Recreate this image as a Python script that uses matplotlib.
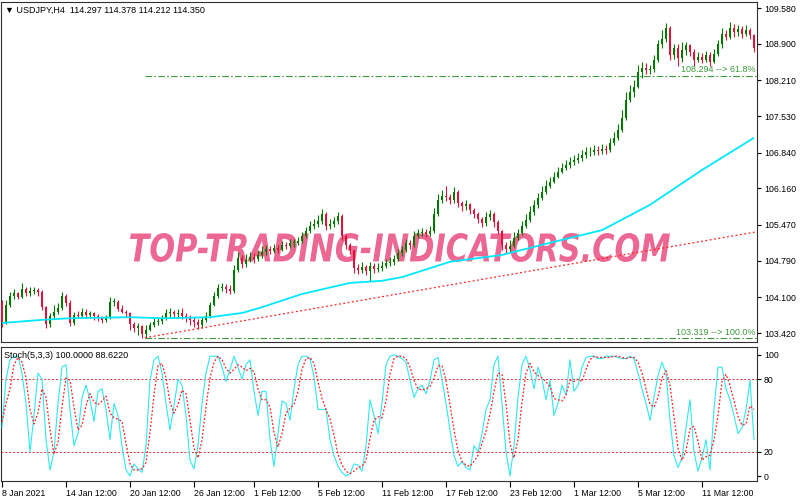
import matplotlib
matplotlib.use('Agg')
import matplotlib.pyplot as plt
from matplotlib.textpath import TextPath
from matplotlib.font_manager import FontProperties
from matplotlib.patches import PathPatch
from matplotlib.transforms import Affine2D, IdentityTransform

# ---------------- data ----------------
first_open = 103.99
closes = [
103.63,103.95,104.12,104.18,104.10,104.25,104.18,104.22,104.24,104.20,
103.91,103.59,103.74,103.82,103.89,104.12,103.99,103.61,103.76,103.74,
103.82,103.76,103.80,103.74,103.70,103.67,103.70,104.01,104.01,103.87,
103.82,103.80,103.59,103.51,103.55,103.40,103.48,103.57,103.63,103.65,
103.70,103.80,103.82,103.78,103.80,103.74,103.70,103.67,103.63,103.57,
103.67,103.74,103.95,104.12,104.27,104.29,104.25,104.22,104.62,104.84,
104.73,104.80,104.86,104.82,104.90,104.96,105.01,104.97,105.03,104.99,
105.09,105.07,105.13,105.13,105.16,105.26,105.35,105.45,105.49,105.54,
105.68,105.45,105.49,105.54,105.64,105.26,105.09,104.99,104.65,104.62,
104.67,104.60,104.69,104.63,104.65,104.69,104.75,104.77,104.82,104.94,
104.99,105.13,105.09,105.26,105.32,105.33,105.30,105.35,105.68,105.94,
106.02,106.00,105.94,106.09,105.88,105.83,105.87,105.75,105.68,105.58,
105.51,105.62,105.68,105.52,105.35,105.09,105.01,105.07,105.22,105.32,
105.45,105.56,105.71,105.85,105.98,106.09,106.21,106.28,106.38,106.47,
106.55,106.61,106.66,106.70,106.74,106.79,106.85,106.85,106.89,106.87,
106.91,106.89,107.02,107.12,107.27,107.50,107.84,107.99,108.09,108.37,
108.44,108.41,108.42,108.60,108.89,109.00,109.20,108.69,108.83,108.63,
108.78,108.87,108.75,108.60,108.66,108.60,108.69,108.56,108.71,108.89,
109.09,109.03,109.20,109.12,109.19,109.09,109.16,109.07,108.83]
highs = [
104.05,104.05,104.20,104.25,104.20,104.37,104.29,104.29,104.29,104.27,
104.24,103.93,103.80,103.95,103.99,104.20,104.16,104.05,103.82,103.84,
103.89,103.87,103.84,103.82,103.78,103.74,103.76,104.10,104.08,104.05,
103.95,103.86,103.82,103.63,103.61,103.57,103.57,103.63,103.70,103.72,
103.76,103.87,103.89,103.86,103.87,103.89,103.80,103.76,103.72,103.69,
103.72,103.82,104.01,104.20,104.35,104.37,104.35,104.33,104.71,104.96,
104.90,104.92,104.96,104.94,104.99,105.07,105.09,105.07,105.11,105.09,
105.16,105.14,105.20,105.20,105.24,105.33,105.43,105.54,105.58,105.66,
105.77,105.71,105.58,105.62,105.71,105.68,105.30,105.13,104.99,104.73,
104.77,104.71,104.77,104.75,104.75,104.79,104.82,104.86,104.90,105.01,
105.07,105.20,105.18,105.35,105.39,105.41,105.39,105.45,105.79,106.05,
106.13,106.21,106.05,106.19,106.13,105.92,105.94,105.88,105.79,105.71,
105.62,105.71,105.75,105.71,105.56,105.37,105.14,105.18,105.33,105.39,
105.54,105.68,105.83,105.94,106.07,106.21,106.32,106.38,106.47,106.57,
106.64,106.70,106.76,106.79,106.83,106.89,106.95,106.95,106.98,106.96,
107.00,106.98,107.12,107.23,107.38,107.65,107.99,108.12,108.22,108.50,
108.56,108.54,108.50,108.69,108.97,109.16,109.30,109.24,108.90,108.89,
108.94,108.94,108.89,108.81,108.75,108.73,108.77,108.75,108.81,108.97,
109.20,109.16,109.31,109.28,109.26,109.24,109.26,109.20,109.09]
lows = [
103.53,103.59,103.91,104.06,104.06,104.08,104.12,104.12,104.16,104.12,
103.86,103.51,103.53,103.70,103.78,103.86,103.93,103.55,103.57,103.70,
103.70,103.70,103.70,103.67,103.65,103.61,103.63,103.69,103.93,103.84,
103.80,103.72,103.48,103.44,103.38,103.32,103.33,103.46,103.53,103.57,
103.59,103.67,103.72,103.72,103.70,103.69,103.63,103.57,103.53,103.50,
103.51,103.63,103.70,103.93,104.08,104.22,104.18,104.16,104.18,104.58,
104.65,104.67,104.77,104.75,104.79,104.84,104.90,104.92,104.94,104.94,
104.97,105.01,105.03,105.05,105.09,105.13,105.22,105.32,105.39,105.43,
105.49,105.37,105.39,105.43,105.49,105.18,105.01,104.92,104.56,104.54,
104.56,104.52,104.41,104.56,104.58,104.60,104.65,104.69,104.71,104.79,
104.88,104.96,105.01,105.05,105.22,105.26,105.24,105.26,105.32,105.64,
105.88,105.92,105.87,105.88,105.81,105.73,105.75,105.68,105.60,105.51,
105.43,105.45,105.56,105.43,105.30,104.99,104.94,104.96,105.05,105.18,
105.28,105.41,105.52,105.66,105.79,105.94,106.05,106.17,106.26,106.36,
106.45,106.51,106.55,106.61,106.64,106.68,106.74,106.78,106.79,106.79,
106.81,106.81,106.85,106.98,107.08,107.23,107.46,107.80,107.90,108.07,
108.25,108.33,108.33,108.37,108.56,108.83,108.94,108.60,108.61,108.48,
108.55,108.69,108.68,108.48,108.56,108.54,108.55,108.48,108.54,108.68,
108.83,108.97,109.00,109.03,109.05,109.01,109.05,109.00,108.75]

ma_bars = [0, 10, 17, 32, 40, 52, 60, 65, 75, 87, 95, 100, 112, 125, 137, 150, 162, 175, 188]
ma_vals = [103.61, 103.67, 103.70, 103.72, 103.70, 103.72, 103.80, 103.91, 104.16, 104.37,
           104.41, 104.48, 104.77, 104.90, 105.13, 105.37, 105.85, 106.51, 107.12]

trend_bars = [35.75, 188.75]
trend_vals = [103.33, 105.34]

fib_levels = [108.294, 103.319]
fib_labels = ['108.294 --> 61.8%', '103.319 --> 100.0%']
fib_start = 35.75

stoch_k = [
40,80,96,99,99,85,60,20,50,85,
80,30,5,20,60,90,92,55,25,35,
65,75,63,45,70,72,55,30,60,50,
25,5,0,10,6,3,25,79,96,99,
85,60,38,58,80,75,50,13,6,25,
60,85,99,99,99,90,78,88,99,90,
80,92,96,70,50,70,70,30,8,35,
62,60,46,72,92,99,99,97,82,55,
55,55,30,17,8,3,0,2,10,9,
4,25,63,50,35,60,92,99,100,99,
97,94,79,65,72,75,68,79,96,98,
80,60,38,17,8,12,7,5,25,20,
35,55,63,92,99,60,20,0,25,65,
92,99,88,72,90,80,63,79,50,60,
75,67,96,70,75,90,98,99,99,97,
97,99,99,99,98,97,97,99,97,85,
72,60,46,65,83,94,85,46,17,7,
15,40,63,20,4,15,30,5,55,90,
90,72,63,50,35,40,55,79,30]
stoch_d = [
45,60,72,92,98,94,81,55,43,52,
72,65,38,18,28,57,81,79,57,38,
42,58,68,61,59,62,66,52,48,47,
45,27,10,5,5,6,11,36,67,91,
93,81,61,52,59,71,68,46,23,15,
30,57,81,94,99,96,89,85,88,92,
90,87,89,86,72,63,63,57,36,24,
35,52,56,59,70,88,97,98,93,78,
64,55,47,34,18,9,4,2,4,7,
8,13,31,46,49,48,62,84,97,99,
99,97,90,79,72,71,72,74,81,91,
91,79,59,38,21,12,9,8,12,17,
27,37,51,70,85,84,60,27,15,30,
61,85,93,86,83,81,78,74,64,63,
62,67,79,78,80,78,88,96,99,98,
98,98,98,99,99,98,97,98,98,94,
85,72,59,57,65,81,87,75,49,23,
13,21,39,41,29,13,16,17,30,50,
78,84,75,62,49,42,43,58,55]
stoch_levels = [80, 20]

price_ticks = [103.420, 104.100, 104.790, 105.470, 106.160, 106.840, 107.530, 108.210, 108.900, 109.580]
stoch_ticks = [0, 20, 80, 100]
time_tick_bars = [0, 16, 32, 48, 63, 79, 95, 111, 127, 143, 159, 175]
time_tick_labels = ['8 Jan 2021', '14 Jan 12:00', '20 Jan 12:00', '26 Jan 12:00', '1 Feb 12:00',
                    '5 Feb 12:00', '11 Feb 12:00', '17 Feb 12:00', '23 Feb 12:00', '1 Mar 12:00',
                    '5 Mar 12:00', '11 Mar 12:00']

header_main = '\u25bc USDJPY,H4  114.297 114.378 114.212 114.350'
header_stoch = 'Stoch(5,3,3) 100.0000 88.6220'
watermark = 'TOP-TRADING-INDICATORS.COM'

# ---------------- figure ----------------
W, H = 800, 500
FONT = 'Liberation Sans'
fig = plt.figure(figsize=(8, 5), dpi=100, facecolor='white')

def rect(x0, y0, x1, y1):
    return [x0 / W, 1 - y1 / H, (x1 - x0) / W, (y1 - y0) / H]

ax = fig.add_axes(rect(1, 2, 757, 342))
sax = fig.add_axes(rect(1, 347, 757, 481))

n = len(closes)
opens = [first_open] + closes[:-1]
bull_c, bear_c = '#007800', '#dc143c'
xs = list(range(n))
cols = [bull_c if c >= o else bear_c for o, c in zip(opens, closes)]
hi = [max(h, o, c) for h, o, c in zip(highs, opens, closes)]
lo = [min(l, o, c) for l, o, c in zip(lows, opens, closes)]
ax.vlines(xs, lo, hi, colors=cols, linewidth=0.8, zorder=3)
bodies_b = [min(o, c) for o, c in zip(opens, closes)]
bodies_h = [max(abs(c - o), 0.01) for o, c in zip(opens, closes)]
ax.bar(xs, bodies_h, bottom=bodies_b, width=0.55, color=cols, linewidth=0, zorder=4)

ax.plot(ma_bars, ma_vals, color='#00e8ff', linewidth=1.3, zorder=5, solid_capstyle='butt')
ax.plot(trend_bars, trend_vals, color='#ff2020', linewidth=0.9, linestyle=(0, (1.5, 2)), zorder=5)
for lvl, lab in zip(fib_levels, fib_labels):
    ax.hlines(lvl, fib_start, 188.75, colors='#3c9a3c', linewidth=0.8,
              linestyles=(0, (6, 2, 1.5, 2)), zorder=5)
    ax.text(188.3, lvl + 0.03, lab, color='#3c9a3c', fontsize=6.5, family=FONT,
            ha='right', va='bottom', zorder=6)

ax.set_xlim(-0.25, 188.75)
ax.set_ylim(103.250, 109.694)
ax.set_xticks([])
ax.yaxis.tick_right()
ax.set_yticks(price_ticks)
ax.set_yticklabels(['%.3f' % v for v in price_ticks])
ax.tick_params(axis='y', direction='out', length=3, width=0.8, pad=2, labelsize=6.3, colors='black')

# watermark as scaled text path (beneath candles)
tp = TextPath((0, 0), watermark, size=40,
              prop=FontProperties(family='DejaVu Sans', weight='bold', style='italic'))
ext = tp.get_extents()
tx0, ty0, tx1, ty1 = 130, H - 262, 670, H - 233
tr = Affine2D().translate(-ext.x0, -ext.y0).scale((tx1 - tx0) / ext.width, (ty1 - ty0) / ext.height).translate(tx0, ty0)
wm = PathPatch(tr.transform_path(tp), facecolor='#ec6892', edgecolor='none', transform=IdentityTransform(), zorder=2)
ax.add_artist(wm)

# stochastic panel
sax.plot(xs, stoch_k, color='#30e8f0', linewidth=0.8, zorder=4)
sax.plot(xs, stoch_d, color='#ff2020', linewidth=0.9, linestyle=(0, (1.5, 1.5)), zorder=5)
for lv in stoch_levels:
    sax.axhline(lv, color='#e03030', linewidth=0.7, linestyle=(0, (2, 2)), zorder=3)
sax.set_xlim(-0.25, 188.75)
sax.set_ylim(-4.13, 106.6)
sax.yaxis.tick_right()
sax.set_yticks(stoch_ticks)
sax.set_yticklabels([str(v) for v in stoch_ticks])
sax.tick_params(axis='y', direction='out', length=3, width=0.8, pad=2, labelsize=6.3)
sax.set_xticks(time_tick_bars)
sax.set_xticklabels(time_tick_labels)
sax.tick_params(axis='x', direction='out', length=4, width=0.8, pad=2, labelsize=6.3)
for lbl in sax.get_xticklabels():
    lbl.set_horizontalalignment('left')
    lbl.set_family(FONT)
for a in (ax, sax):
    for lbl in a.get_yticklabels():
        lbl.set_family(FONT)
    for s in a.spines.values():
        s.set_color('#303030')
        s.set_linewidth(0.8)

fig.text(5 / W, 1 - 10 / H, header_main, fontsize=6.5, family=[FONT, 'DejaVu Sans'], va='center', ha='left')
fig.text(4 / W, 1 - 356 / H, header_stoch, fontsize=6.5, family=FONT, va='center', ha='left')

fig.savefig('out.png', dpi=100, facecolor='white')
